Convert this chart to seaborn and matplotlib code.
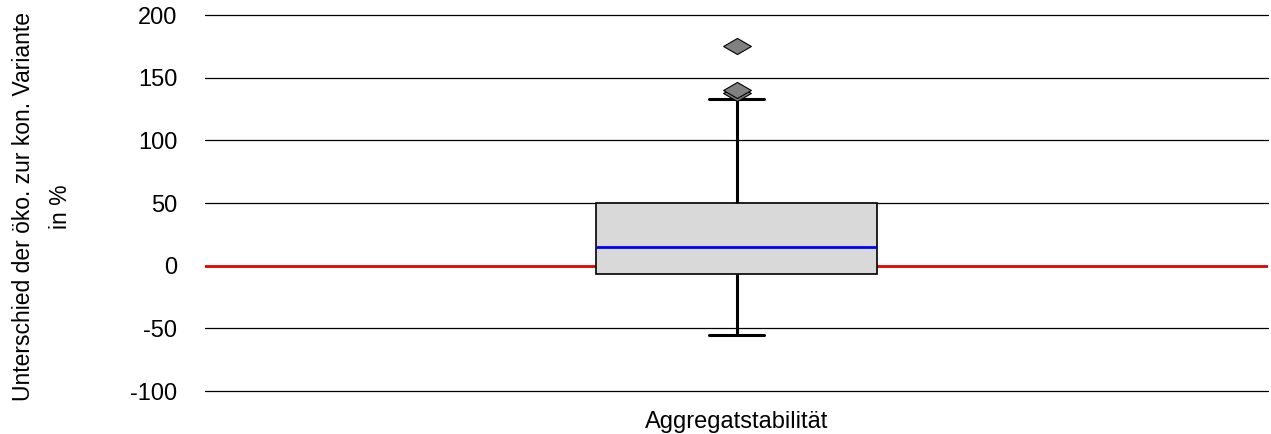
import pandas as pd
import numpy as np
import matplotlib
matplotlib.use("Agg")
import matplotlib.pyplot as plt
import seaborn as sns

parameter = "Aggregatstabilität"
werte = [-55, -35, -20, -12, -6.6, 0, 5, 10, 15, 20, 28, 40, 50,
         133, 138, 140, 175]
yticks = [-100, -50, 0, 50, 100, 150, 200]

df = pd.DataFrame({"Parameter": [parameter] * len(werte), "Wert": werte})

sns.set_style("white")
plt.rcParams["font.family"] = ["Liberation Sans", "DejaVu Sans"]
plt.rcParams["text.color"] = "black"
plt.rcParams["axes.labelcolor"] = "black"
plt.rcParams["xtick.color"] = "black"
plt.rcParams["ytick.color"] = "black"

fig = plt.figure(figsize=(12.71, 4.34), dpi=100)
ax = fig.add_axes([205 / 1271, 1 - 391 / 434, 1063 / 1271, 376 / 434])

# horizontal grid lines
for t in yticks:
    if t == 0:
        continue
    ax.axhline(t, color="black", linewidth=0.9, zorder=0, clip_on=False)
ax.axhline(0, color="#e00000", linewidth=2, zorder=0.5)

# wide diamond marker for outliers
diamond = [(-1, 0), (0, 0.58), (1, 0), (0, -0.58), (-1, 0)]

sns.boxplot(data=df, x="Parameter", y="Wert", ax=ax, width=0.264,
            color="#d9d9d9", linecolor="black", linewidth=1.2,
            boxprops=dict(facecolor="#d9d9d9", edgecolor="black", linewidth=1.2, zorder=2),
            medianprops=dict(color="#0000ff", linewidth=2, zorder=3),
            whiskerprops=dict(color="black", linewidth=2.2),
            capprops=dict(color="black", linewidth=2.2),
            flierprops=dict(marker=diamond, markersize=20, markerfacecolor="#808080",
                            markeredgecolor="black", markeredgewidth=0.8),
            capwidths=0.052)

ax.set_ylim(-100, 200)
ax.set_xlim(-0.5, 0.5)
ax.set_yticks(yticks)
ax.set_yticklabels([str(t) for t in yticks])
for s in ax.spines.values():
    s.set_visible(False)
ax.tick_params(axis="y", length=0, pad=20, labelsize=17)
ax.tick_params(axis="x", length=0, pad=14.5, labelsize=17)
ax.set_xlabel("")
ax.set_ylabel("Unterschied der öko. zur kon. Variante\nin %", fontsize=16.5, linespacing=1.8)
ax.yaxis.set_label_coords(-0.125, 0.49)

fig.savefig("out.png", dpi=100)
